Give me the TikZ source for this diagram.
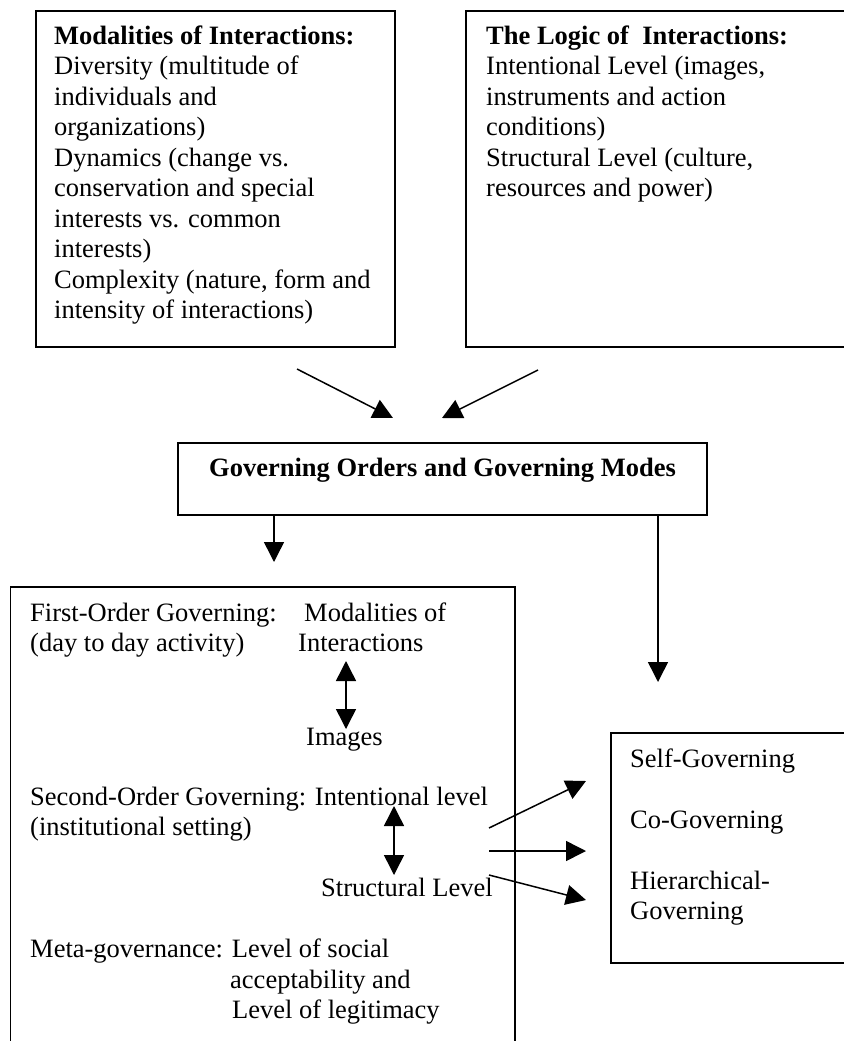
\documentclass[tikz,border=0pt]{standalone}
\usepackage{fontspec}
\setmainfont{Liberation Serif}
\usetikzlibrary{arrows.meta}
\begin{document}
\begin{tikzpicture}[x=1pt,y=-1pt,
  box/.style={draw, line width=1.8pt, inner sep=0pt, anchor=north west},
  txt/.style={inner sep=0pt, anchor=base west, font=\fontsize{26.5}{30.5}\selectfont},
  arr/.style={line width=1.5pt, -{Triangle[length=20pt,width=20pt]}},
  dbl/.style={line width=1.5pt, {Triangle[length=20pt,width=20pt]}-{Triangle[length=20pt,width=20pt]}},
]
\useasboundingbox (0,0) rectangle (843,1041);

% boxes
\node[box, minimum width=359pt, minimum height=336pt] (modal) at (35,10) {};
\node[box, minimum width=420pt, minimum height=336pt] (logic) at (465,10) {};
\node[draw, line width=1.8pt, inner sep=0pt, minimum width=529pt, text height=33pt, text depth=39pt,
      font=\bfseries\fontsize{26.5}{30.5}\selectfont] (gov) at (442.5,479) {Governing Orders and Governing Modes};
\node[box, minimum width=504.5pt, minimum height=520pt] (orders) at (9.5,586) {};
\node[box, minimum width=300pt, minimum height=230pt] (modes) at (610,732) {};

% top texts
\node[txt] (modaltxt) at (54,44.5) {\vtop{%
  \hbox{\bfseries Modalities of Interactions:}
  \hbox{Diversity (multitude of}
  \hbox{individuals and}
  \hbox{organizations)}
  \hbox{Dynamics (change vs.}
  \hbox{conservation and special}
  \hbox{interests vs. common}
  \hbox{interests)}
  \hbox{Complexity (nature, form and}
  \hbox{intensity of interactions)}}};
\node[txt] (logictxt) at (486,44.5) {\vtop{%
  \hbox{\bfseries The Logic of~~Interactions:}
  \hbox{Intentional Level (images,}
  \hbox{instruments and action}
  \hbox{conditions)}
  \hbox{Structural Level (culture,}
  \hbox{resources and power)}}};

% bottom-left texts
\node[txt] (first) at (30,621) {\vtop{\hbox{First-Order Governing:}\hbox{(day to day activity)}}};
\node[txt] (modint) at (304,621) {Modalities of};
\node[txt] (inter) at (298,651.5) {Interactions};
\node[txt] (images) at (306,745) {Images};
\node[txt] (second) at (30,805) {\vtop{\hbox{Second-Order Governing: Intentional level}\hbox{(institutional setting)}}};
\node[txt] (struct) at (321,896) {Structural Level};
\node[txt] (meta) at (30,957) {Meta-governance: Level of social};
\node[txt] (accept) at (230,988) {\vtop{\hbox{acceptability and}\hbox{\kern2pt Level of legitimacy}}};

% right texts
\node[txt] (modestxt) at (630,767) {\vtop{\hbox{Self-Governing}\hbox{}\hbox{Co-Governing}\hbox{}\hbox{Hierarchical-}\hbox{Governing}}};

% connectors
\coordinate (a1s) at (297,369); \coordinate (a1e) at (393,418);
\coordinate (a2s) at (538,370); \coordinate (a2e) at (442,418);
\draw[arr] (a1s) -- (a1e);
\draw[arr] (a2s) -- (a2e);

\coordinate (d1e) at (274,562);
\coordinate (d2e) at (658,682);
\draw[arr] (gov.south -| d1e) -- (d1e);
\draw[arr] (gov.south -| d2e) -- (d2e);

\coordinate (u1) at (346,661); \coordinate (l1) at (346,729);
\coordinate (u2) at (394,806); \coordinate (l2) at (394,875);
\draw[dbl] (u1) -- (l1);
\draw[dbl] (u2) -- (l2);

\coordinate (r1s) at (489,828); \coordinate (r1e) at (586,781);
\coordinate (r2s) at (489,851); \coordinate (r2e) at (586,851);
\coordinate (r3s) at (489,875); \coordinate (r3e) at (586,900);
\draw[arr] (r1s) -- (r1e);
\draw[arr] (r2s) -- (r2e);
\draw[arr] (r3s) -- (r3e);
\end{tikzpicture}
\end{document}
